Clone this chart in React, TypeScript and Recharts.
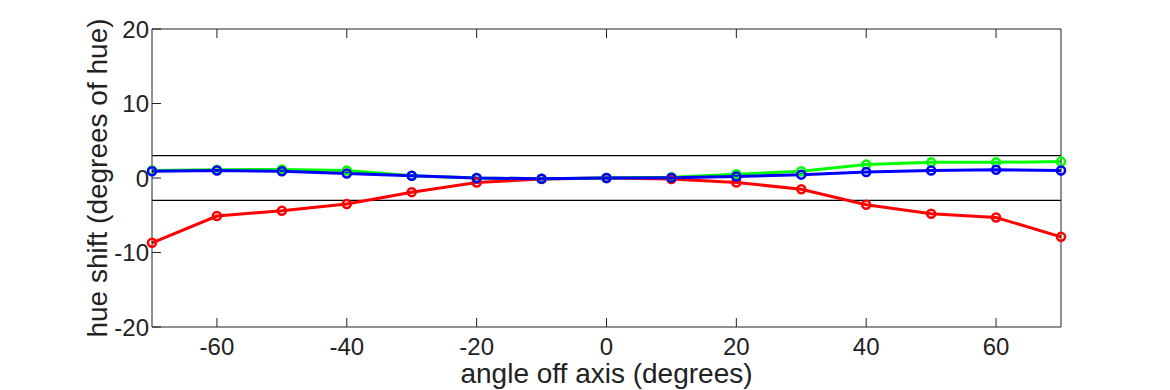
import React from "react";
import {
  LineChart,
  Line,
  XAxis,
  YAxis,
  ReferenceLine,
} from "recharts";

const angles = [-70, -60, -50, -40, -30, -20, -10, 0, 10, 20, 30, 40, 50, 60, 70];
const redShift = [-8.7, -5.1, -4.4, -3.5, -1.9, -0.6, -0.15, 0, -0.15, -0.6, -1.5, -3.6, -4.8, -5.3, -7.9];
const greenShift = [1.0, 1.1, 1.15, 1.0, 0.3, 0.0, -0.1, 0, 0.1, 0.5, 0.9, 1.8, 2.1, 2.1, 2.2];
const blueShift = [0.9, 1.0, 0.9, 0.6, 0.3, 0.0, -0.1, 0, 0.05, 0.2, 0.45, 0.8, 1.0, 1.1, 1.0];
const xTicks = [-60, -40, -20, 0, 20, 40, 60];
const yTicks = [-20, -10, 0, 10, 20];
const limits = [-3, 3];

const data = angles.map((a, i) => ({
  angle: a,
  red: redShift[i],
  green: greenShift[i],
  blue: blueShift[i],
}));

const FONT = "'Liberation Sans', Arial, Helvetica, sans-serif";
const tickStyle = { fontSize: 24, fill: "#222", fontFamily: FONT };
const labelStyle = { fontSize: 28, fill: "#222", fontFamily: FONT };
const blank = () => "";

const App: React.FC = () => {
  return (
    <div style={{ position: "absolute", left: 0, top: 0, background: "#fff" }}>
      <LineChart
        width={1170}
        height={390}
        data={data}
        margin={{ top: 0, right: 0, bottom: 0, left: 0 }}
      >
        <XAxis
          xAxisId="bottom"
          dataKey="angle"
          type="number"
          domain={[-70, 70]}
          ticks={xTicks}
          height={63}
          tickSize={-9}
          tickMargin={20}
          stroke="#222"
          tick={tickStyle}
          label={{
            value: "angle off axis (degrees)",
            position: "insideBottom",
            offset: 7,
            style: labelStyle,
          }}
        />
        <XAxis
          xAxisId="top"
          orientation="top"
          dataKey="angle"
          type="number"
          domain={[-70, 70]}
          ticks={xTicks}
          height={29}
          tickSize={-9}
          tickFormatter={blank}
          stroke="#222"
        />
        <YAxis
          yAxisId="left"
          type="number"
          domain={[-20, 20]}
          ticks={yTicks}
          width={152}
          tickSize={-9}
          tickMargin={12}
          stroke="#222"
          tick={tickStyle}
          label={{
            value: "hue shift (degrees of hue)",
            angle: -90,
            position: "insideLeft",
            offset: 97,
            style: { ...labelStyle, textAnchor: "middle" },
          }}
        />
        <YAxis
          yAxisId="right"
          orientation="right"
          type="number"
          domain={[-20, 20]}
          ticks={yTicks}
          width={109}
          tickSize={-9}
          tickFormatter={blank}
          stroke="#222"
        />
        {limits.map((v) => (
          <ReferenceLine
            key={v}
            xAxisId="bottom"
            yAxisId="left"
            y={v}
            stroke="#000"
            strokeWidth={1.2}
          />
        ))}
        <Line
          xAxisId="bottom"
          yAxisId="left"
          dataKey="red"
          stroke="#ff0000"
          strokeWidth={3}
          dot={{ r: 4, strokeWidth: 2.5, fill: "none", stroke: "#ff0000" }}
          isAnimationActive={false}
        />
        <Line
          xAxisId="bottom"
          yAxisId="left"
          dataKey="green"
          stroke="#00ff00"
          strokeWidth={3}
          dot={{ r: 4, strokeWidth: 2.5, fill: "none", stroke: "#00ff00" }}
          isAnimationActive={false}
        />
        <Line
          xAxisId="bottom"
          yAxisId="left"
          dataKey="blue"
          stroke="#0000ff"
          strokeWidth={3}
          dot={{ r: 4, strokeWidth: 2.5, fill: "none", stroke: "#0000ff" }}
          isAnimationActive={false}
        />
      </LineChart>
    </div>
  );
};

export default App;
